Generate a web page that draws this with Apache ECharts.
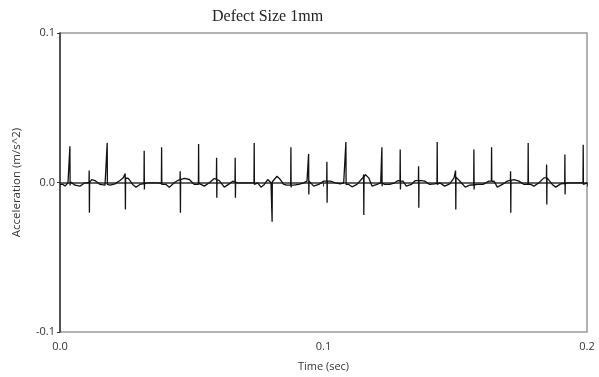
<!DOCTYPE html>
<html>
<head>
<meta charset="utf-8">
<script src="https://cdn.jsdelivr.net/npm/echarts@6/dist/echarts.min.js"></script>
<style>
html,body{margin:0;padding:0;background:#fff;}
#chart{width:599px;height:377px;}
</style>
</head>
<body>
<div id="chart"></div>
<script>
// Spike (impulse) times and extremes
const spikeTime = [0.00380,0.01112,0.01795,0.02478,0.03199,0.03860,0.04566,0.05264,0.05947,0.06653,
  0.07374,0.08046,0.08767,0.09439,0.10133,0.10854,0.11526,0.12220,0.12915,0.13613,
  0.14319,0.15017,0.15712,0.16383,0.17104,0.17772,0.18471,0.19165,0.19860];
const spikeHigh = [0.0242,0.0080,0.0265,0.0060,0.0213,0.0235,0.0075,0.0258,0.0165,0.0165,
  0.0265,0.0000,0.0235,0.0191,0.0138,0.0271,0.0053,0.0235,0.0220,0.0109,
  0.0271,0.0080,0.0220,0.0235,0.0075,0.0265,0.0120,0.0187,0.0253];
const spikeLow = [-0.0020,-0.0202,-0.0013,-0.0180,-0.0047,-0.0013,-0.0202,-0.0007,-0.0102,-0.0102,
  -0.0013,-0.0263,-0.0033,-0.0080,-0.0135,-0.0013,-0.0218,-0.0025,-0.0047,-0.0169,
  -0.0013,-0.0180,-0.0047,0.0007,-0.0202,-0.0013,-0.0147,-0.0080,-0.0013];
// Baseline level of the trace at the foot of each impulse
const spikeBase = [0.0005,0.0000,-0.0018,0.0030,-0.0008,-0.0008,0.0020,-0.0013,0.0020,0.0003,
  -0.0002,0.0005,-0.0018,0.0009,0.0009,-0.0008,0.0035,-0.0005,0.0010,0.0013,
  -0.0005,0.0036,-0.0015,0.0009,0.0015,-0.0013,0.0031,-0.0005,-0.0002];
// Baseline ringing between impulses
const baseTime = [0.00000,0.00114,0.00190,0.00304,0.00444,0.00569,0.00759,0.00949,0.01203,0.01328,
  0.01518,0.01708,0.01898,0.02087,0.02277,0.02402,0.02592,0.02759,0.02884,0.03036,
  0.03313,0.03541,0.03731,0.03920,0.04023,0.04148,0.04338,0.04467,0.04717,0.04907,
  0.05097,0.05351,0.05476,0.05666,0.05856,0.06046,0.06235,0.06425,0.06554,0.06744,
  0.06869,0.07123,0.07503,0.07628,0.07753,0.07882,0.08008,0.08110,0.08235,0.08361,
  0.08490,0.08615,0.08869,0.09059,0.09249,0.09374,0.09499,0.09628,0.09818,0.10008,
  0.10258,0.10448,0.10638,0.10767,0.10956,0.11082,0.11271,0.11435,0.11586,0.11715,
  0.11841,0.12030,0.12171,0.12323,0.12512,0.12702,0.12827,0.13017,0.13143,0.13332,
  0.13484,0.13712,0.13841,0.14030,0.14220,0.14410,0.14600,0.14789,0.14953,0.15104,
  0.15230,0.15381,0.15548,0.15863,0.16053,0.16281,0.16471,0.16596,0.16786,0.16975,
  0.17230,0.17419,0.17609,0.17863,0.17989,0.18178,0.18368,0.18558,0.18683,0.18812,
  0.19002,0.19317,0.19507,0.19696,0.20000];
const baseAccel = [-0.0013,-0.0013,-0.0024,-0.0002,0.0009,-0.0018,-0.0024,-0.0002,0.0020,0.0013,
  -0.0013,-0.0018,-0.0018,-0.0009,0.0013,0.0031,0.0027,-0.0013,-0.0031,-0.0013,
  -0.0002,-0.0002,-0.0002,-0.0013,-0.0013,-0.0031,-0.0002,0.0013,0.0027,0.0020,
  -0.0013,-0.0013,-0.0024,-0.0002,0.0027,0.0013,-0.0031,-0.0009,0.0009,-0.0002,
  -0.0002,-0.0002,-0.0002,-0.0031,-0.0013,0.0020,-0.0002,0.0009,0.0042,0.0020,
  -0.0013,-0.0018,-0.0018,-0.0013,-0.0002,0.0009,0.0009,-0.0024,-0.0013,0.0009,
  0.0009,-0.0002,-0.0009,-0.0002,-0.0013,-0.0029,-0.0013,0.0020,0.0053,0.0031,
  -0.0024,-0.0013,-0.0002,-0.0013,-0.0013,-0.0002,0.0013,0.0009,-0.0024,-0.0013,
  0.0013,0.0013,0.0009,-0.0013,-0.0009,-0.0002,-0.0024,-0.0009,0.0031,0.0042,
  -0.0002,-0.0031,-0.0018,-0.0013,-0.0013,0.0009,0.0009,-0.0031,-0.0013,0.0009,
  0.0020,0.0009,-0.0013,-0.0013,-0.0024,-0.0002,0.0031,0.0031,-0.0013,-0.0031,
  -0.0009,-0.0002,-0.0002,-0.0002,-0.0002];
const yTicks = ['-0.1','0.0','0.1'];
const xTicks = ['0.0','0.1','0.2'];

const pts = [];
baseTime.forEach((t,i)=>pts.push([t, baseAccel[i]]));
spikeTime.forEach((t,i)=>{
  pts.push([t-0.00012, spikeBase[i]]);
  pts.push([t-0.00004, spikeHigh[i]]);
  pts.push([t+0.00004, spikeLow[i]]);
  pts.push([t+0.00012, spikeBase[i]]);
});
pts.sort((a,b)=>a[0]-b[0]);

const chart = echarts.init(document.getElementById('chart'), null, {renderer:'canvas'});
const sans = "'Open Sans', 'Noto Sans', sans-serif";
chart.setOption({
  animation:false,
  backgroundColor:'#fff',
  title:{
    text:'Defect Size 1mm',
    left:207, top:4,
    textStyle:{fontFamily:"'Liberation Serif', serif", fontSize:16, fontWeight:'normal', color:'#222'}
  },
  grid:{left:60, right:12, top:33, bottom:44, show:true, borderColor:'#999', borderWidth:1.5},
  xAxis:{
    type:'value', min:0, max:0.2, interval:0.1,
    name:'Time (sec)', nameLocation:'middle', nameGap:29,
    nameTextStyle:{fontFamily:sans, fontSize:11, color:'#333'},
    axisLine:{show:true, lineStyle:{color:'#333', width:1.5}},
    axisTick:{show:true, length:4, lineStyle:{color:'#333'}},
    axisLabel:{fontFamily:sans, fontSize:11, color:'#333', margin:9,
      formatter:(v)=>xTicks[Math.round(v*10)]},
    splitLine:{show:false}
  },
  yAxis:{
    type:'value', min:-0.1, max:0.1, interval:0.1,
    name:'Acceleration (m/s^2)', nameLocation:'middle', nameGap:37,
    nameTextStyle:{fontFamily:sans, fontSize:11.5, color:'#333'},
    axisLine:{show:true, lineStyle:{color:'#333', width:1.5}},
    axisTick:{show:true, length:3, lineStyle:{color:'#333'}},
    axisLabel:{fontFamily:sans, fontSize:11, color:'#333', margin:5,
      formatter:(v)=>yTicks[Math.round(v*10)+1]},
    splitLine:{show:false}
  },
  series:[{
    type:'line', data:pts, showSymbol:false, symbol:'none',
    lineStyle:{color:'#111', width:1.3}, silent:true
  }]
});
</script>
</body>
</html>
